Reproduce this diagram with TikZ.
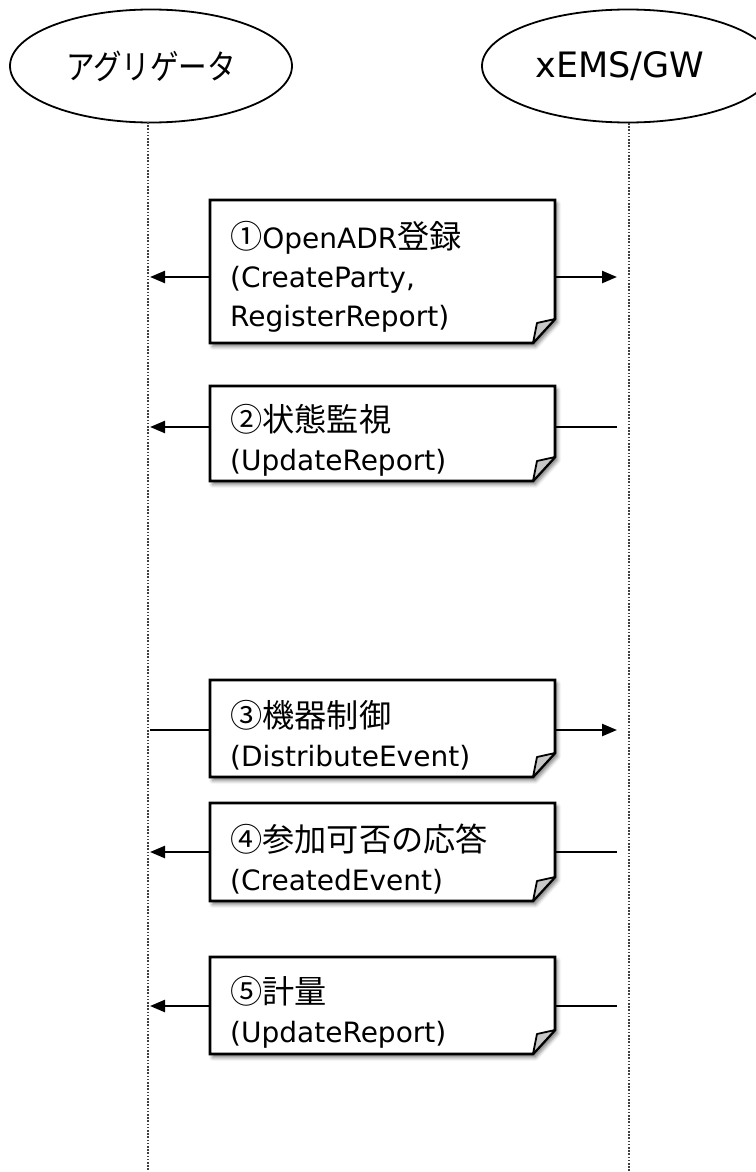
\documentclass[tikz,border=0pt]{standalone}
\usepackage{fontspec}
\setmainfont{DejaVu Sans}
\newfontfamily\jpfont{Noto Sans CJK JP}[Scale=1.15]
\newfontfamily\jplabel{Noto Sans CJK JP}
\usetikzlibrary{arrows.meta,calc,shapes.geometric,shadows.blur}

\tikzset{
  actor/.style={draw, ellipse, line width=1.8pt, inner sep=0pt},
  lifeline/.style={draw=black!75, line width=1.6pt, dash pattern=on 1.5pt off 1.7pt},
  noteanchor/.style={rectangle, minimum width=345pt, inner sep=0pt, outer sep=0pt},
  notebody/.style={draw=black, fill=white, line width=2.6pt, line join=miter,
    blur shadow={shadow xshift=2.5pt, shadow yshift=-3.5pt, shadow blur radius=3.5pt, shadow opacity=50}},
  notefold/.style={draw=black, fill=black!22, line width=1.8pt, line join=round},
  notetext/.style={anchor=west, align=left, inner sep=0pt, font=\fontsize{28}{39}\selectfont},
  msg/.style={draw=black, line width=2.4pt, -{Triangle[length=15pt,width=12pt]}},
  msgplain/.style={draw=black, line width=2.4pt},
}

% a note sheet with a folded bottom-right corner: name, centre, height
\newcommand\notesheet[3]{%
  \node[noteanchor, minimum height=#3] (#1) at (#2) {};
  \path[notebody] (#1.north west) -- (#1.north east) -- ($(#1.south east)+(0,-24)$)
    -- ($(#1.south east)+(-22,0)$) -- (#1.south west) -- cycle;
  \filldraw[notefold] ($(#1.south east)+(-22,0)$) -- ($(#1.south east)+(-18,-20)$)
    -- ($(#1.south east)+(0,-24)$) -- cycle;
}

\begin{document}
\begin{tikzpicture}[x=1pt, y=-1pt]
\useasboundingbox (0,0) rectangle (755,1172);

% participants
\node[actor, minimum width=282pt, minimum height=113pt] (agg) at (151,66)
  {\scalebox{0.84}[1]{\jplabel\fontsize{34}{36}\selectfont アグリゲータ}};
\node[actor, minimum width=292pt, minimum height=113pt] (ems) at (628,66)
  {\fontsize{35}{38}\selectfont xEMS/GW\hspace*{16pt}};

% lifelines
\coordinate (aggTop) at (148,122);
\coordinate (aggEnd) at (148,1172);
\coordinate (emsTop) at (629,123);
\coordinate (emsEnd) at (629,1172);
\draw[lifeline] (aggTop) -- (aggEnd);
\draw[lifeline] (emsTop) -- (emsEnd);

% message notes
\notesheet{n1}{382.5,271.5}{143pt}
\notesheet{n2}{382.5,433.5}{95pt}
\notesheet{n3}{382.5,728.5}{97pt}
\notesheet{n4}{382.5,852}{98pt}
\notesheet{n5}{382.5,1005.5}{97pt}

\node[notetext] (t1) at ($(n1.west)+(20,5)$)
  {{\jpfont ①}OpenADR{\jpfont 登録}\\(CreateParty,\\RegisterReport)};
\node[notetext] (t2) at ($(n2.west)+(20,7)$) {{\jpfont ②状態監視}\\(UpdateReport)};
\node[notetext] (t3) at ($(n3.west)+(20,7)$) {{\jpfont ③機器制御}\\(DistributeEvent)};
\node[notetext] (t4) at ($(n4.west)+(20,7)$) {{\jpfont ④参加可否の応答}\\(CreatedEvent)};
\node[notetext] (t5) at ($(n5.west)+(20,7)$) {{\jpfont ⑤計量}\\(UpdateReport)};

% message ends on the lifelines
\coordinate (a1) at (150,277);  \coordinate (e1) at (617,277);
\coordinate (a2) at (150,427);  \coordinate (e2) at (617,427);
\coordinate (a3) at (150,730);  \coordinate (e3) at (617,730);
\coordinate (a4) at (150,852);  \coordinate (e4) at (617,852);
\coordinate (a5) at (150,1006); \coordinate (e5) at (617,1006);

% messages
\draw[msg] (n1.west |- a1) -- (a1);
\draw[msg] (n1.east |- e1) -- (e1);
\draw[msg] (n2.west |- a2) -- (a2);
\draw[msgplain] (e2) -- (n2.east |- e2);
\draw[msgplain] (a3) -- (n3.west |- a3);
\draw[msg] (n3.east |- e3) -- (e3);
\draw[msg] (n4.west |- a4) -- (a4);
\draw[msgplain] (e4) -- (n4.east |- e4);
\draw[msg] (n5.west |- a5) -- (a5);
\draw[msgplain] (e5) -- (n5.east |- e5);
\end{tikzpicture}
\end{document}
